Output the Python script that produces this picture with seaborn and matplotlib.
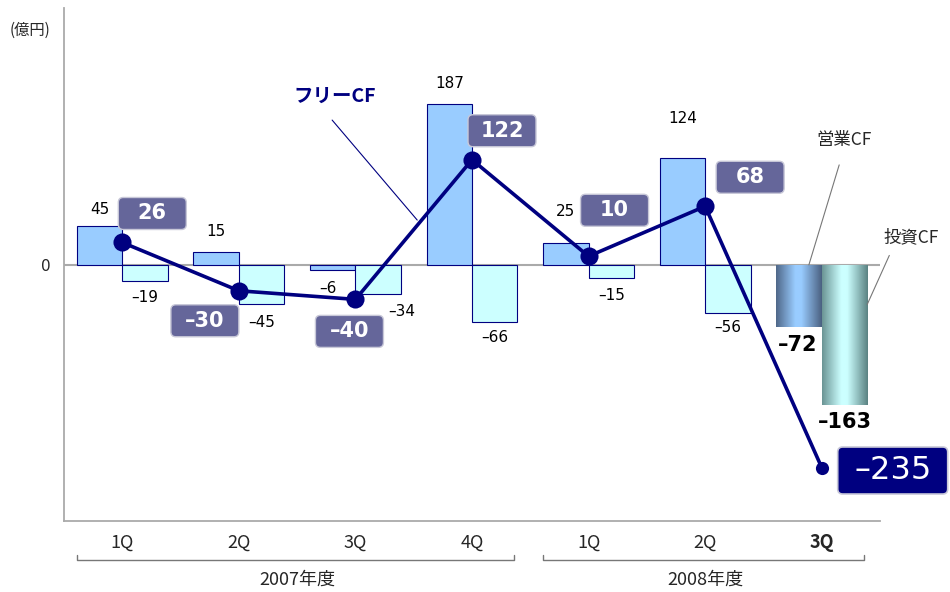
import numpy as np
import pandas as pd
import matplotlib
matplotlib.use("Agg")
import matplotlib.pyplot as plt
import matplotlib.patches as mpatches
import matplotlib.transforms as mtrans
from matplotlib.colors import LinearSegmentedColormap
import seaborn as sns

# data (億円)
quarters = ['1Q', '2Q', '3Q', '4Q', '1Q', '2Q', '3Q']
years = ['2007年度', '2008年度']
year_of = [0, 0, 0, 0, 1, 1, 1]
op_cf = [45, 15, -6, 187, 25, 124, -72]         # 営業CF
inv_cf = [-19, -45, -34, -66, -15, -56, -163]   # 投資CF
free_cf = [26, -30, -40, 122, 10, 68, -235]     # フリーCF

sns.set_style('white')
plt.rcParams['font.family'] = ['Noto Sans CJK JP', 'DejaVu Sans']
num_font = ['DejaVu Sans']

navy = '#000080'
keys = [f'{years[y]}-{q}' for y, q in zip(year_of, quarters)]
df = pd.DataFrame({'key': keys * 2,
                   'value': op_cf + inv_cf,
                   'series': ['営業CF'] * 7 + ['投資CF'] * 7})


def fmt(v):
    return f'{v}'.replace('-', '–')


fig = plt.figure(figsize=(9.5, 5.92), dpi=100)
ax = fig.add_axes([0.0674, 0.12, 0.8589, 0.8665])

ax.axhline(0, color='#aaaaaa', lw=1.5, zorder=0)
sns.barplot(data=df, x='key', y='value', hue='series', order=keys,
            palette={'営業CF': '#99ccff', '投資CF': '#ccffff'}, saturation=1,
            width=0.78, edgecolor=navy, linewidth=0.8, legend=False, ax=ax, zorder=2)

xs = np.arange(len(keys))
sns.lineplot(x=xs, y=free_cf, color=navy, lw=2.6, ax=ax, zorder=4)
sns.scatterplot(x=xs[:-1], y=free_cf[:-1], color=navy, s=170, ax=ax, zorder=5, linewidth=0)
sns.scatterplot(x=xs[-1:], y=free_cf[-1:], color=navy, s=90, ax=ax, zorder=5, linewidth=0)

# gradient bars for the latest quarter
grad_cols = [['#4f6788', '#99ccff', '#99ccff', '#4a6080'],
             ['#6a9494', '#ccffff', '#ccffff', '#5a8282']]
for cont, cols in zip(ax.containers, grad_cols):
    bar = cont.patches[-1]
    cmap = LinearSegmentedColormap.from_list('g', list(zip([0, 0.42, 0.55, 1], cols)))
    x0, y0, w, h = bar.get_x(), bar.get_y(), bar.get_width(), bar.get_height()
    im = ax.imshow(np.linspace(0, 1, 256)[None, :], cmap=cmap, aspect='auto',
                   extent=[x0, x0 + w, y0 + h, y0], zorder=2)
    im.set_clip_path(bar)
    bar.set_facecolor('none')
    bar.set_edgecolor('none')
ax.set_xlim(-0.5, 6.5)
ax.set_ylim(-297, 298)

# bar value labels (offsets in pixels)
op_off = [(0, 17), (0, 20), (-5, -18), (0, 20), (0, 32), (0, 40), (-1, -18)]
inv_off = [(0, -16), (0, -19), (24, -17), (0, -16), (0, -18), (0, -14), (0, -17)]
dx = 0.195
for i in range(7):
    last = i == 6
    for v, off, sx in ((op_cf[i], op_off[i], -dx), (inv_cf[i], inv_off[i], dx)):
        ax.annotate(fmt(v), xy=(i + sx, v), xytext=off,
                    textcoords='offset pixels', ha='center', va='center',
                    family=num_font, fontsize=15 if last else 11,
                    fontweight='bold' if last else 'normal', color='black', zorder=6)

# free CF boxed labels
box_off = [(30, 29), (-34, -30), (-6, -32), (30, 29), (26, 46), (45, 29)]
for i, (v, (ox, oy)) in enumerate(zip(free_cf[:-1], box_off)):
    tr = fig.dpi_scale_trans + mtrans.ScaledTranslation(i, v, ax.transData)
    ax.add_patch(mpatches.FancyBboxPatch((ox / 100 - 0.34, oy / 100 - 0.16), 0.68, 0.32,
                                         boxstyle='round,pad=0,rounding_size=0.05',
                                         fc='#65669a', ec='#c8c8d8', lw=1,
                                         transform=tr, clip_on=False, zorder=7))
    ax.annotate(fmt(v), xy=(i, v), xytext=(ox, oy),
                textcoords='offset pixels', ha='center', va='center',
                family=num_font, fontsize=15, fontweight='bold', color='white', zorder=8)

i, v = 6, free_cf[-1]
tr = fig.dpi_scale_trans + mtrans.ScaledTranslation(i, v, ax.transData)
ax.add_patch(mpatches.FancyBboxPatch((0.71 - 0.55, -0.03 - 0.235), 1.10, 0.47,
                                     boxstyle='round,pad=0,rounding_size=0.05',
                                     fc=navy, ec='#c8c8d8', lw=1.2,
                                     transform=tr, clip_on=False, zorder=7))
ax.annotate(fmt(v), xy=(i, v), xytext=(71, -3),
            textcoords='offset pixels', ha='center', va='center',
            family=num_font, fontsize=23, color='white', zorder=8, annotation_clip=False)

# series name callouts
ax.text(1.82, 195, 'フリーCF', color=navy, fontsize=14, fontweight='bold',
        ha='center', va='center')
ax.plot([1.80, 2.53], [168, 52], color=navy, lw=0.8, zorder=3)
ax.text(6.19, 145, '営業CF', fontsize=12.5, ha='center', va='center')
ax.plot([6.15, 5.89], [116, 0], color='#777777', lw=0.8, zorder=3)
ax.text(6.77, 32, '投資CF', fontsize=12.5, ha='center', va='center', clip_on=False)
ax.plot([6.58, 6.39], [11, -46], color='#777777', lw=0.8, zorder=3, clip_on=False)

# axes styling
sns.despine(ax=ax)
for s in ('left', 'bottom'):
    ax.spines[s].set_color('#aaaaaa')
    ax.spines[s].set_linewidth(1.3)
ax.set_xlabel('')
ax.set_ylabel('')
ax.set_yticks([0])
ax.set_yticklabels(['0'], fontsize=11, family=num_font)
ax.set_xticks(xs)
ax.set_xticklabels(quarters, fontsize=13)
ax.get_xticklabels()[-1].set_fontweight('bold')
ax.tick_params(axis='both', length=0)
ax.tick_params(axis='x', pad=9)
ax.tick_params(axis='y', pad=10)
fig.text(30 / 950, 1 - 30 / 592, '(億円)', fontsize=11, ha='center', va='center')

# fiscal-year brackets
bt = mtrans.blended_transform_factory(ax.transData, ax.transAxes)
for y, name in enumerate(years):
    idx = [k for k, yy in enumerate(year_of) if yy == y]
    a, b = idx[0] - 0.39, idx[-1] + 0.36
    ax.plot([a, a, b, b], [-0.066, -0.076, -0.076, -0.066], color='#777777', lw=1,
            transform=bt, clip_on=False)
    ax.text((idx[0] + idx[-1]) / 2, -0.114, name, fontsize=13, ha='center', va='center',
            transform=bt)

fig.savefig('out.png', dpi=100)
